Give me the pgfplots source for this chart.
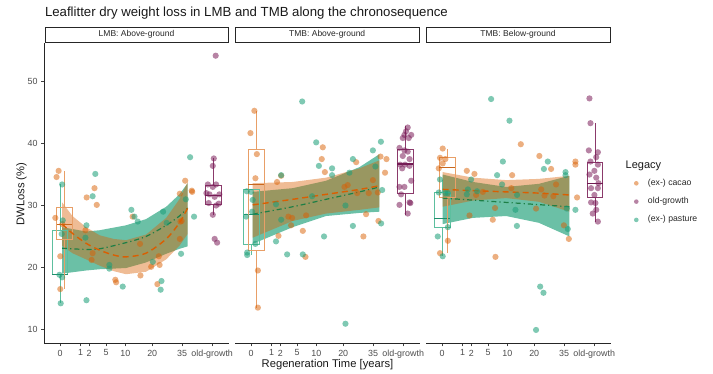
\documentclass[border=0pt]{standalone}
\usepackage{fontspec}
\setmainfont{Liberation Sans}
\usepackage{pgfplots}
\pgfplotsset{compat=1.18}
\definecolor{cacao}{HTML}{D95F02}
\definecolor{past}{HTML}{1B9E77}
\definecolor{oldg}{HTML}{7B1E5A}
\definecolor{cacaobox}{HTML}{E89F67}
\definecolor{pastbox}{HTML}{5DBF9F}
\definecolor{oldgbox}{HTML}{8B3A6B}
\definecolor{cacaomed}{HTML}{C8681E}
\definecolor{pastmed}{HTML}{1F8F6C}
\definecolor{oldgmed}{HTML}{6E1A50}
\definecolor{pastline}{HTML}{1E7F45}
\definecolor{txtgrey}{HTML}{4D4D4D}
\newcommand{\boxp}[9]{%
 \addplot[draw=#1box, line width=0.7pt, forget plot] coordinates {(#2,#6)(#3,#6)(#3,#8)(#2,#8)(#2,#6)};
 \addplot[draw=#1med, line width=1.1pt, forget plot] coordinates {(#2,#7)(#3,#7)};
 \addplot[draw=#1box, line width=0.7pt, forget plot] coordinates {(#4,#8)(#4,#9)};
 \addplot[draw=#1box, line width=0.7pt, forget plot] coordinates {(#4,#6)(#4,#5)};
}
\pgfplotsset{
  panel/.style={
    scale only axis, width=185.5pt, height=300.3pt,
    xmin=-0.78, xmax=8.22, ymin=7.74, ymax=56.25,
    anchor=south west,
    xtick={0,1,1.4142,2.2361,3.1623,4.4721,5.9161,7.38},
    xticklabels={0,1,2,5,10,20,35,old-growth},
    tick align=outside, major tick length=3pt,
    tick style={color=black!75, line width=0.6pt},
    ticklabel style={font=\fontsize{8.9}{10}\selectfont, text=txtgrey},
    axis line style={line width=0.8pt, color=black!85},
    /pgf/number format/assume math mode=true,
    clip=false,
    axis x line*=bottom,
  },
  cpts/.style={only marks, color=cacao, mark=*, mark size=3.1pt, mark options={draw opacity=0, fill=cacao, fill opacity=0.5}, forget plot},
  ppts/.style={only marks, color=past, mark=*, mark size=3.1pt, mark options={draw opacity=0, fill=past, fill opacity=0.56}, forget plot},
  opts/.style={only marks, color=oldg, mark=*, mark size=3.1pt, mark options={draw opacity=0, fill=oldg, fill opacity=0.55}, forget plot},
  cline/.style={draw=cacao, line width=1.4pt, dash pattern=on 6pt off 4pt, smooth, forget plot},
  pline/.style={draw=pastline, line width=1.2pt, dash pattern=on 5pt off 3pt on 1.2pt off 3pt, smooth, forget plot},
  cband/.style={fill=cacao, fill opacity=0.42, draw=none, forget plot},
  pband/.style={fill=past, fill opacity=0.65, draw=none, forget plot},
}
\begin{document}
\begin{tikzpicture}[x=1pt,y=1pt]
\path[use as bounding box] (0,0) rectangle (713,373);
% title
\node[anchor=west, font=\fontsize{13.2}{15}\selectfont, text=black!90] at (41.5,360) {Leaflitter dry weight loss in LMB and TMB along the chronosequence};
% strips
\draw[line width=0.8pt, black!85] (45,330.3) rectangle (228,346);
\node[font=\fontsize{8.5}{10}\selectfont, text=black!85] at (136.5,338.2) {LMB: Above-ground};
\draw[line width=0.8pt, black!85] (235.5,330.3) rectangle (419,346);
\node[font=\fontsize{8.5}{10}\selectfont, text=black!85] at (327.2,338.2) {TMB: Above-ground};
\draw[line width=0.8pt, black!85] (426,330.3) rectangle (610,346);
\node[font=\fontsize{8.5}{10}\selectfont, text=black!85] at (518,338.2) {TMB: Below-ground};
% axis labels
\node[rotate=90, font=\fontsize{11.2}{13}\selectfont, text=black!90] at (21.5,179) {DWLoss (\%)};
\node[font=\fontsize{11.2}{13}\selectfont, text=black!90] at (327.5,8.5) {Regeneration Time [years]};
% legend title
\node[anchor=west, font=\fontsize{11}{13}\selectfont, text=black!90, inner sep=0pt] at (625.5,207.3) {Legacy};

%================ Panel 1 =================
\begin{axis}[panel, at={(44pt,29.7pt)}, axis y line*=left, ytick={10,20,30,40,50}]
\addplot[pband] coordinates {(0.1,26.5)(1.26,25.8)(1.91,26.0)(3.2,26.8)(4.17,27.8)(5.15,29.8)(5.79,31.8)(6.19,33.6)
  (6.19,23.4)(5.79,23.0)(5.15,22.2)(4.17,20.8)(3.2,19.9)(1.91,19.7)(1.26,19.5)(0.1,19.0)} -- cycle;
\addplot[cband] coordinates {(0.1,30.5)(0.6,28.3)(1.26,26.5)(1.91,25.2)(2.6,24.6)(3.2,24.4)(4.17,25.3)(5.15,28.0)(5.79,31.0)(6.19,33.8)
  (6.19,25.4)(5.79,23.5)(5.15,21.3)(4.17,19.3)(3.2,18.9)(2.6,19.4)(1.91,20.3)(1.26,21.3)(0.6,22.3)(0.1,23.5)} -- cycle;
% points
\addplot[cpts] coordinates {(-0.07,35.6)(-0.17,34.6)(-0.23,28.0)(0.01,21.8)(0.01,16.5)(0.11,27.0)(1.29,31.3)(1.67,32.8)(1.78,30.1)(1.23,26.0)(1.58,22.3)(1.53,21.2)(2.68,18.0)(2.72,17.6)(3.52,28.2)(3.88,23.8)(3.9,18.7)(4.42,20.1)(4.79,21.8)(4.83,20.4)(4.72,17.3)(5.81,24.6)(5.84,27.4)(5.9,27.5)(5.81,31.9)(6.07,34.0)(6.39,32.4)(6.41,32.2)};
\addplot[ppts] coordinates {(0.10,33.4)(0.13,27.6)(0.08,25.4)(-0.03,18.8)(0.10,18.4)(0.03,14.2)(1.71,35.1)(1.58,31.5)(1.28,26.8)(1.23,24.8)(1.28,14.7)(2.39,20.4)(2.39,19.8)(3.04,16.9)(3.46,29.3)(3.61,28.2)(3.77,27.4)(4.5,20.9)(5.0,29.0)(5.17,27.2)(4.92,17.8)(4.88,16.4)(5.87,22.2)(6.31,37.8)(6.1,31.0)(6.5,28.2)};
\addplot[opts] coordinates {(7.55,54.2)(7.46,37.6)(7.41,36.4)(7.17,33.4)(7.57,33.4)(7.41,33.0)(7.25,31.8)(7.73,31.8)(7.5,31.4)(7.21,30.4)(7.57,30.0)(7.7,30.3)(7.41,28.5)(7.5,24.6)(7.62,24.0)(7.1,32.0)};
% boxplots
\boxp{past}{-0.39}{0.37}{-0.01}{14.2}{18.8}{18.9}{26.0}{33.4}
\boxp{cacao}{-0.17}{0.59}{0.21}{16.5}{24.5}{27.0}{29.7}{35.6}
\boxp{oldg}{7.03}{7.81}{7.42}{28.5}{30.2}{31.6}{33.2}{37.6}
% lines
\addplot[pline] coordinates {(0.1,23.1)(1.26,22.9)(1.91,23.0)(3.2,24.0)(4.17,25.0)(5.15,26.8)(5.79,28.3)(6.19,29.6)};
\addplot[cline] coordinates {(0.1,27.0)(0.6,25.5)(1.26,23.9)(1.91,22.8)(2.6,22.0)(3.2,21.7)(4.17,22.3)(5.15,24.6)(5.79,27.2)(6.19,29.6)};
\end{axis}

%================ Panel 2 =================
\begin{axis}[panel, at={(235pt,29.7pt)}, axis y line=none]
\addplot[pband] coordinates {(0.08,32.2)(2.02,32.8)(3.64,34.0)(5.26,36.2)(6.23,38.3)
  (6.23,29.0)(5.26,28.8)(3.64,28.3)(2.02,26.5)(0.08,23.8)} -- cycle;
\addplot[cband] coordinates {(0.08,33.6)(2.02,33.8)(3.64,34.5)(5.26,36.0)(6.23,37.3)
  (6.23,29.7)(5.26,29.3)(3.64,28.7)(2.02,27.5)(0.08,24.8)} -- cycle;
\addplot[cpts] coordinates {(0.16,45.3)(-0.03,41.7)(0.28,38.3)(0.21,34.4)(0.33,19.5)(0.33,13.5)(1.26,33.8)(1.46,34.8)(1.81,28.2)(1.94,26.8)(1.99,28.0)(1.33,25.1)(2.67,28.4)(2.51,25.9)(2.64,21.7)(3.48,39.4)(3.43,37.5)(3.58,35.4)(4.53,33.0)(4.69,33.3)(5.1,37.0)(5.15,32.0)(5.58,28.6)(5.45,25.0)(5.71,32.0)(5.91,34.1)(6.15,32.1)(6.18,27.5)(6.5,35.3)(6.57,37.5)(6.28,37.9)};
\addplot[ppts] coordinates {(2.48,46.8)(-0.21,32.3)(0.0,32.2)(0.08,30.9)(-0.24,28.2)(0.05,29.0)(-0.19,22.4)(-0.19,22.0)(0.21,23.8)(1.21,30.2)(1.46,27.7)(1.21,24.2)(1.46,34.9)(1.75,22.1)(2.51,22.1)(2.96,31.5)(3.16,40.2)(3.29,36.4)(3.93,36.0)(3.93,34.9)(3.54,25.0)(4.58,30.0)(4.58,10.9)(4.77,35.3)(4.94,37.5)(4.94,26.7)(5.91,38.9)(6.03,36.3)(6.3,40.3)(6.36,32.5)(6.31,27.1)};
\addplot[opts] coordinates {(7.6,42.6)(7.52,42.0)(7.77,41.4)(7.44,41.4)(7.65,40.9)(7.36,40.9)(7.2,39.3)(7.44,38.9)(7.6,38.7)(7.36,38.0)(7.69,37.5)(7.23,36.6)(7.47,36.6)(7.69,36.4)(7.33,36.0)(7.77,34.0)(7.2,33.0)(7.44,33.0)(7.28,31.8)(7.69,30.5)(7.73,30.4)(7.2,30.1)(7.6,28.7)};
\boxp{past}{-0.36}{0.40}{0.02}{22.0}{23.7}{28.6}{32.6}{32.6}
\boxp{cacao}{-0.14}{0.64}{0.25}{13.5}{22.8}{33.4}{39.1}{45.3}
\boxp{oldg}{7.09}{7.85}{7.47}{28.5}{31.9}{36.7}{39.1}{42.9}
\addplot[pline] coordinates {(0.08,28.6)(2.02,29.8)(3.64,31.0)(5.26,32.2)(6.23,33.0)};
\addplot[cline] coordinates {(0.08,30.1)(2.02,31.0)(3.64,31.8)(5.26,32.6)(6.23,33.2)};
\end{axis}

%================ Panel 3 =================
\begin{axis}[panel, at={(426pt,29.7pt)}, axis y line=none,
  legend image code/.code={\draw[#1] plot coordinates {(0pt,0pt)};},
  legend style={at={(axis description cs:1.1213,0.5494)}, anchor=north west, draw=none, fill=none,
    inner sep=0pt, outer sep=0pt,
    font=\fontsize{8.7}{10}\selectfont, row sep=8.3pt, text=black!85,
    nodes={text height=6pt, text depth=2pt, inner sep=1pt},
    /tikz/every odd column/.append style={column sep=8.4pt}},
  legend cell align=left]
\addlegendimage{only marks, color=cacao, mark=*, mark size=2.3pt, mark options={draw opacity=0, fill=cacao, fill opacity=0.5}}
\addlegendentry{(ex-) cacao}
\addlegendimage{only marks, color=oldg, mark=*, mark size=2.3pt, mark options={draw opacity=0, fill=oldg, fill opacity=0.55}}
\addlegendentry{old-growth}
\addlegendimage{only marks, color=past, mark=*, mark size=2.3pt, mark options={draw opacity=0, fill=past, fill opacity=0.56}}
\addlegendentry{(ex-) pasture}
\addplot[pband] coordinates {(0.03,35.0)(1.5,33.8)(3.11,33.0)(4.7,33.5)(6.18,34.8)
  (6.18,25.0)(4.7,27.2)(3.11,28.3)(1.5,28.0)(0.03,27.0)} -- cycle;
\addplot[cband] coordinates {(0.03,35.4)(1.5,34.5)(3.11,34.1)(4.7,34.3)(6.18,34.8)
  (6.18,29.0)(4.7,30.6)(3.11,31.2)(1.5,30.8)(0.03,29.8)} -- cycle;
\addplot[cpts] coordinates {(0.03,39.2)(-0.1,37.7)(0.16,37.5)(0.03,36.8)(-0.16,36.0)(0.28,24.3)(-0.1,22.3)(1.2,35.6)(1.57,35.1)(1.65,31.7)(1.98,32.2)(1.33,28.4)(2.57,29.6)(2.46,27.7)(2.59,21.7)(3.4,34.9)(3.36,32.8)(3.82,39.9)(4.72,38.0)(4.81,32.6)(4.97,31.6)(5.29,35.9)(5.53,33.4)(4.56,29.5)(5.4,31.5)(5.91,26.8)(6.15,24.6)(6.47,37.1)(6.47,36.6)(6.55,31.3)};
\addplot[ppts] coordinates {(2.38,47.2)(3.27,43.7)(-0.1,34.2)(-0.16,32.1)(0.16,32.0)(0.28,32.0)(-0.21,25.0)(0.03,21.8)(0.28,26.5)(1.25,32.6)(1.2,31.8)(1.41,34.2)(1.7,32.3)(2.67,34.9)(2.91,33.4)(2.95,37.1)(3.64,31.7)(3.56,29.3)(3.63,26.7)(4.94,35.9)(5.13,37.1)(4.76,16.9)(4.92,15.9)(4.56,9.9)(5.99,35.4)(5.99,34.9)(6.05,29.5)(6.1,26.2)(6.47,29.3)};
\addplot[opts] coordinates {(7.15,47.3)(7.2,43.3)(7.12,38.9)(7.56,38.6)(7.48,37.8)(7.2,37.1)(7.56,36.6)(7.39,35.6)(7.15,35.0)(7.48,34.5)(7.59,33.6)(7.23,32.8)(7.56,32.8)(7.39,31.7)(7.23,30.5)(7.44,30.4)(7.48,29.3)(7.31,28.7)(7.56,27.4)};
\boxp{past}{-0.38}{0.40}{0.01}{21.8}{26.5}{27.9}{32.1}{34.2}
\boxp{cacao}{-0.13}{0.63}{0.25}{22.3}{31.3}{36.2}{37.7}{39.2}
\boxp{oldg}{7.04}{7.80}{7.42}{27.4}{31.3}{33.5}{37.0}{43.3}
\addplot[pline] coordinates {(0.03,31.2)(3.11,30.5)(6.18,29.8)};
\addplot[cline] coordinates {(0.03,32.6)(1.5,32.4)(3.11,32.2)(4.7,32.0)(6.18,31.7)};
\end{axis}
\end{tikzpicture}
\end{document}
